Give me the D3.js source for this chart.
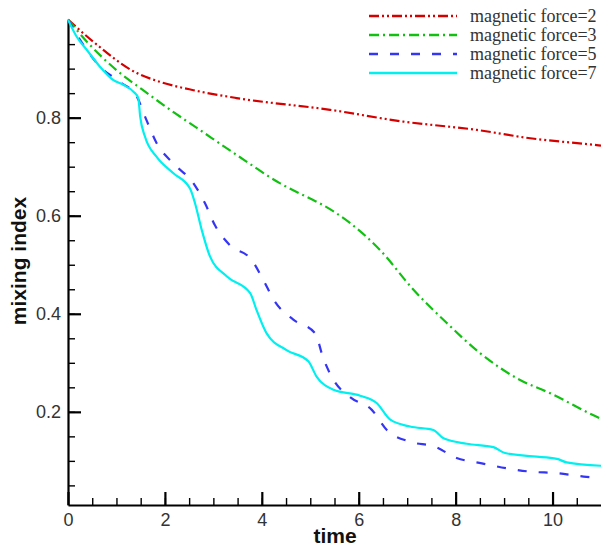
<!DOCTYPE html>
<html>
<head>
<meta charset="utf-8">
<script src="https://cdn.jsdelivr.net/npm/d3@7"></script>
<style>
    body { margin: 0; background: #fff; }
    .axis path, .axis line { stroke: #000; }
    .axis text { font-family: "Liberation Sans", Arial, sans-serif; font-size: 18px; fill: #333; }
</style>
</head>
<body>
<div id="chart"></div>
<script>
// curves: [time, mixing index]
var force2 = [[0, 1.0], [0.52, 0.955], [1.42, 0.891], [1.9, 0.873], [2.59, 0.856], [3.48, 0.84],
    [5.41, 0.816], [6.92, 0.792], [8.44, 0.775], [9.54, 0.758], [10.91, 0.744], [11, 0.743]];
var force3 = [[0, 1.0], [0.39, 0.955], [1.0, 0.897], [1.55, 0.856], [2.11, 0.816], [2.72, 0.775],
    [3.48, 0.724], [4.38, 0.666], [5.06, 0.632], [5.2, 0.625], [6.44, 0.53], [7.13, 0.449],
    [7.82, 0.381], [8.5, 0.32], [9.33, 0.265], [9.95, 0.238], [10.91, 0.19], [11, 0.186]];
var force5 = [[0, 1.0], [0.32, 0.948], [0.66, 0.904], [1.07, 0.873], [1.42, 0.843], [1.62, 0.795],
    [1.83, 0.748], [2.17, 0.707], [2.59, 0.666], [2.83, 0.625], [3.03, 0.581], [3.34, 0.54],
    [3.79, 0.51], [4.03, 0.469], [4.27, 0.425], [4.65, 0.388], [5.1, 0.36], [5.27, 0.309],
    [5.48, 0.265], [5.82, 0.23], [6.27, 0.204], [6.58, 0.163], [7.06, 0.139], [7.57, 0.129],
    [8.02, 0.106], [8.54, 0.095], [9.05, 0.085], [9.54, 0.078], [10.09, 0.075], [10.64, 0.068], [11, 0.065]];
var force7 = [[0, 1.0], [0.18, 0.965], [0.39, 0.938], [0.66, 0.904], [0.93, 0.877], [1.14, 0.867],
    [1.35, 0.853], [1.45, 0.84], [1.49, 0.802], [1.59, 0.761], [1.83, 0.72], [2.17, 0.687],
    [2.52, 0.655], [2.62, 0.626], [2.76, 0.571], [2.93, 0.517], [3.28, 0.476], [3.76, 0.442],
    [3.89, 0.408], [4.1, 0.36], [4.51, 0.326], [4.96, 0.303], [5.13, 0.272], [5.48, 0.245],
    [6.03, 0.233], [6.37, 0.218], [6.65, 0.184], [7.06, 0.17], [7.54, 0.163], [7.75, 0.146],
    [8.23, 0.135], [8.78, 0.128], [9.02, 0.116], [9.6, 0.109], [10.09, 0.104], [10.29, 0.097], [11, 0.09]];

var seriesNames = ["magnetic force=2", "magnetic force=3", "magnetic force=5", "magnetic force=7"];
var xMajor = [0, 2, 4, 6, 8, 10];
var yMajor = [0.2, 0.4, 0.6, 0.8];

function drawChart() {
    var width = 601, height = 549;
    var series = [
        {name: seriesNames[0], values: force2, color: "#d40000", dash: "10,3,2,3,2,3"},
        {name: seriesNames[1], values: force3, color: "#12c012", dash: "10,4,2,4"},
        {name: seriesNames[2], values: force5, color: "#3535f5", dash: "9,12"},
        {name: seriesNames[3], values: force7, color: "#00f0f0", dash: null}
    ];

    var x = d3.scaleLinear().domain([0, 11]).range([68, 601]),
        y = d3.scaleLinear().domain([0.01, 1.0]).range([505, 19.6]);

    var svg = d3.select("#chart").append("svg")
        .attr("width", width)
        .attr("height", height);

    var line = d3.line()
        .curve(d3.curveMonotoneX)
        .x(function (d) { return x(d[0]); })
        .y(function (d) { return y(d[1]); });

    // minor ticks first, then the major axes on top
    svg.append("g")
        .attr("class", "axis")
        .attr("transform", "translate(0,505)")
        .call(d3.axisBottom(x).tickValues(d3.range(0.5, 11, 0.5)).tickSize(-7).tickFormat(""))
        .call(function (g) { g.select(".domain").remove(); g.selectAll("line").attr("stroke-width", 1.4).attr("stroke", "#333"); });

    svg.append("g")
        .attr("class", "axis")
        .attr("transform", "translate(68,0)")
        .call(d3.axisLeft(y).tickValues(d3.range(0.05, 1.0, 0.05)).tickSize(-7).tickFormat(""))
        .call(function (g) { g.select(".domain").remove(); g.selectAll("line").attr("stroke-width", 1.4).attr("stroke", "#333"); });

    svg.append("g")
        .attr("class", "axis")
        .attr("transform", "translate(0,505)")
        .call(d3.axisBottom(x).tickValues(xMajor).tickSize(-13).tickSizeOuter(0).tickPadding(8).tickFormat(d3.format("d")))
        .call(function (g) {
            g.select(".domain").attr("stroke-width", 2.2);
            g.selectAll("line").attr("stroke-width", 2.2);
        });

    svg.append("g")
        .attr("class", "axis")
        .attr("transform", "translate(68,0)")
        .call(d3.axisLeft(y).tickValues(yMajor).tickSize(-13).tickSizeOuter(0).tickPadding(7).tickFormat(d3.format(".1f")))
        .call(function (g) {
            g.select(".domain").attr("stroke-width", 2.2);
            g.selectAll("line").attr("stroke-width", 2.2);
        });

    svg.selectAll(".curve")
        .data(series)
        .enter().append("path")
        .attr("class", "curve")
        .attr("fill", "none")
        .attr("stroke", function (d) { return d.color; })
        .attr("stroke-width", 2.2)
        .attr("stroke-dasharray", function (d) { return d.dash; })
        .attr("d", function (d) { return line(d.values); });

    // axis titles
    svg.append("text")
        .attr("x", 335)
        .attr("y", 543)
        .attr("text-anchor", "middle")
        .style("font-family", "'Liberation Sans', Arial, sans-serif")
        .style("font-weight", "bold")
        .style("font-size", "21px")
        .style("fill", "#111")
        .text("time");

    svg.append("text")
        .attr("transform", "translate(26,261) rotate(-90)")
        .attr("text-anchor", "middle")
        .style("font-family", "'Liberation Sans', Arial, sans-serif")
        .style("font-weight", "bold")
        .style("font-size", "21px")
        .style("fill", "#111")
        .text("mixing index");

    // legend
    var legend = svg.append("g").attr("class", "legend");
    var rows = legend.selectAll("g")
        .data(series)
        .enter().append("g")
        .attr("transform", function (d, i) { return "translate(369," + (16 + i * 19) + ")"; });

    rows.append("line")
        .attr("x1", 0).attr("x2", 88)
        .attr("stroke", function (d) { return d.color; })
        .attr("stroke-width", 2.4)
        .attr("stroke-dasharray", function (d) { return d.dash; });

    rows.append("text")
        .attr("x", 101)
        .attr("dy", "0.33em")
        .style("font-family", "'Liberation Serif', 'Times New Roman', serif")
        .style("font-size", "18px")
        .style("fill", "#333")
        .text(function (d) { return d.name; });
}

drawChart();
</script>
</body>
</html>
